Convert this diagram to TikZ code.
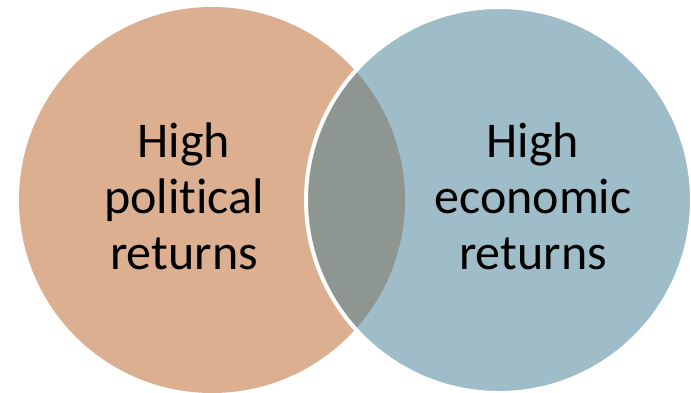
\documentclass[tikz,border=0pt]{standalone}
\usepackage{fontspec}
\setmainfont[Ligatures=NoCommon]{Carlito}
\definecolor{polfill}{HTML}{DCAF91}
\definecolor{ecofill}{HTML}{9FBDC8}
\definecolor{bothfill}{HTML}{8E9692}
\begin{document}
\begin{tikzpicture}[
    x=1pt, y=1pt,
    set/.style={circle, minimum size=386pt, inner sep=0pt},
    txt/.style={align=center, anchor=base, font=\fontsize{50}{56}\selectfont}
]
\useasboundingbox (0,0) rectangle (691,392);
\clip (0,0) rectangle (691,392);

% ---- the two sets ----
\coordinate (pc) at (212,192);
\coordinate (ec) at (499,192);
\node[set, fill=polfill] (pol) at (pc) {};
\node[set, fill=ecofill] (eco) at (ec) {};

% ---- overlap ----
\begin{scope}
  \clip (pc) circle (193);
  \fill[bothfill] (ec) circle (193);
\end{scope}
\draw[white, line width=4pt] (ec) circle (193);

% ---- labels (base = last line) ----
\node[txt] (poltxt) at (184,123) {High\\political\\returns};
\node[txt] (ecotxt) at (533,123) {High\\economic\\returns};

\end{tikzpicture}
\end{document}
